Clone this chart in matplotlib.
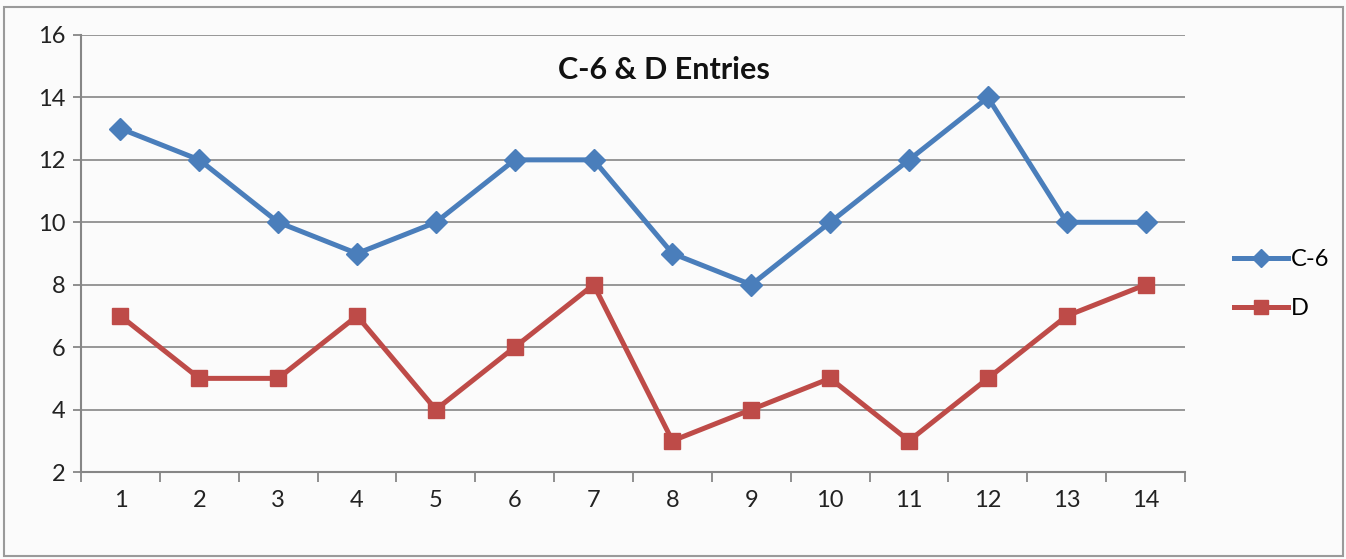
import matplotlib.pyplot as plt
from matplotlib.patches import Rectangle
import numpy as np

# Data
days = list(range(1, 15))
c6 = [13, 12, 10, 9, 10, 12, 12, 9, 8, 10, 12, 14, 10, 10]
d = [7, 5, 5, 7, 4, 6, 8, 3, 4, 5, 3, 5, 7, 8]
y_ticks = [2, 4, 6, 8, 10, 12, 14, 16]

blue = '#4a7ebb'
red = '#be4b48'
grey = '#868686'

plt.rcParams['font.family'] = ['Lato', 'DejaVu Sans']

fig = plt.figure(figsize=(13.46, 5.59), dpi=100)
fig.patch.set_facecolor('#fbfbfb')
# outer chart border
fig.patches.append(Rectangle((0.003, 0.006), 0.995, 0.982, transform=fig.transFigure,
                             fill=False, edgecolor='#9a9a9a', linewidth=1.5))

ax = fig.add_axes([0.0602, 0.1556, 0.8202, 0.7818])
ax.set_facecolor('none')

ax.plot(days, c6, color=blue, lw=3.6, marker='D', ms=11, mec=blue, label='C-6')
ax.plot(days, d, color=red, lw=3.6, marker='s', ms=12, mec=red, label='D')

ax.set_xlim(0.5, 14.5)
ax.set_ylim(2, 16)
ax.set_yticks(y_ticks)
ax.set_xticks(days)
ax.set_xticks(np.arange(0.5, 15, 1), minor=True)
ax.tick_params(axis='x', which='major', length=0, pad=13, labelsize=17, colors='#222222')
ax.tick_params(axis='x', which='minor', length=7, width=1.3, color=grey, direction='out')
ax.tick_params(axis='y', length=6, width=1.3, color=grey, labelsize=17, labelcolor='#222222', pad=5)
ax.grid(axis='y', color=grey, lw=1.2)
ax.set_axisbelow(True)
for s in ['top', 'right']:
    ax.spines[s].set_visible(False)
for s in ['left', 'bottom']:
    ax.spines[s].set_color(grey)
    ax.spines[s].set_linewidth(1.5)

ax.text(0.528, 0.92, 'C-6 & D Entries', transform=ax.transAxes, ha='center', va='center',
        fontsize=22, fontweight='bold', color='#111111')

ax.legend(loc='center left', bbox_to_anchor=(1.025, 0.43), frameon=False, fontsize=17,
          handlelength=2.3, handletextpad=0.1, labelspacing=1.2, markerscale=0.8)

fig.savefig('out.png', dpi=100, facecolor=fig.get_facecolor())
